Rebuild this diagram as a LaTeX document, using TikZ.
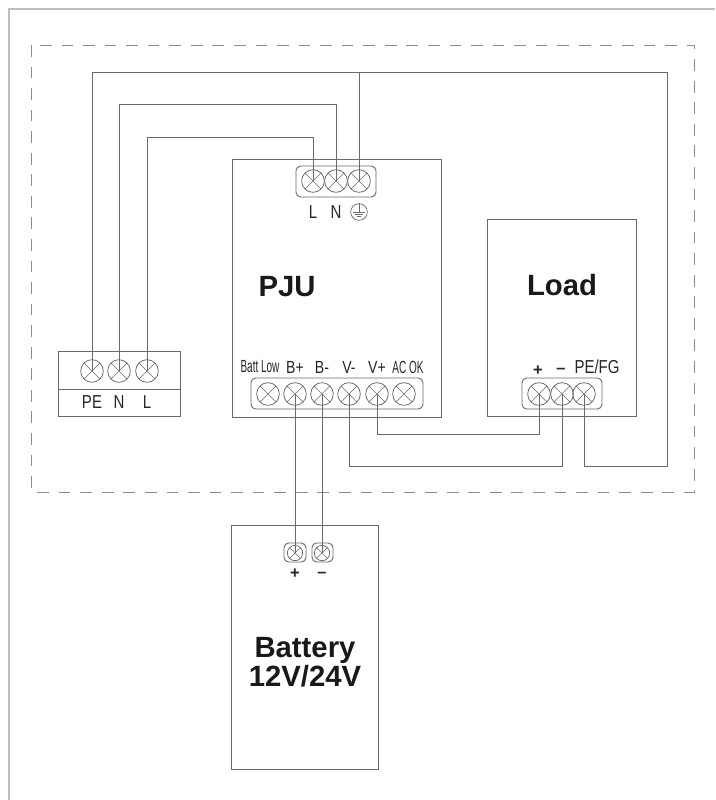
\documentclass[tikz,border=0pt]{standalone}
\usepackage{fontspec}
\setmainfont{Liberation Sans}
\newfontfamily\narrowfont[FakeStretch=0.8]{Liberation Sans}
\newfontfamily\tighterfont[FakeStretch=0.57]{Liberation Sans}
\definecolor{wire}{HTML}{6A6A6A}
\tikzset{
  screw/.style={circle,draw=wire,line width=0.65pt,inner sep=0pt,minimum size=0.68cm,
    path picture={\draw [wire,line width=0.55pt] (path picture bounding box.north west) -- (path picture bounding box.south east)
      (path picture bounding box.north east) -- (path picture bounding box.south west);}},
  smallscrew/.style={screw,minimum size=0.46cm},
  lbl/.style={font=\narrowfont\fontsize{16}{16}\selectfont,text=black!85,inner sep=0pt},
  rowlbl/.style={font=\narrowfont\fontsize{15}{15}\selectfont,text=black!85,inner sep=0pt},
  signlbl/.style={font=\bfseries\fontsize{14}{14}\selectfont,text=black!85,inner sep=0pt},
  title/.style={font=\bfseries\fontsize{25}{25}\selectfont,text=black!90,inner sep=0pt,align=center},
  strip/.style={draw=wire,line width=0.8pt,rounded corners=4pt},
  box/.style={draw=wire,line width=0.85pt},
  line/.style={wire,line width=0.85pt}
}
\begin{document}
\begin{tikzpicture}[x=0.03cm,y=-0.03cm]
\useasboundingbox (0,0) rectangle (715,800);
\draw [black!25,line width=1.2pt] (715,9) -- (9,9) -- (9,800);
\draw [black!45,line width=0.85pt,dash pattern=on 10pt off 8.4pt] (31.5,45) rectangle (694,492);
\draw [box] (232,159) rectangle (441,417);
\draw [box] (487.5,219) rectangle (636,416);
\draw [box] (231,525) rectangle (378,769);
\draw [box] (58,351) rectangle (180,416);
\draw [box] (58,389) -- (180,389);
\draw [strip] (296,166) rectangle (376,197);
\draw [strip] (251,378) rectangle (423,409);
\draw [strip] (522,378) rectangle (602,409);
\draw [strip] (284,543) rectangle (306,562);
\draw [strip] (312,543) rectangle (333,562);
% mains block
\node [screw] (linePE) at (92,371) {};
\node [screw] (lineN) at (119,371) {};
\node [screw] (lineL) at (147,371) {};
\node [lbl] (txtPE) at (92,402) {PE};
\node [lbl] (txtN) at (119,402) {N};
\node [lbl] (txtL) at (147,402) {L};
% ac input
\node [screw] (acL) at (313,181) {};
\node [screw] (acN) at (336,181) {};
\node [screw] (acE) at (359,181) {};
\node [lbl] (txtacL) at (313,212) {L};
\node [lbl] (txtacN) at (336,212) {N};
\node [circle,draw=wire,line width=0.6pt,inner sep=0pt,minimum size=0.5cm] (txtacE) at (359,212) {};
\draw [line,line width=0.6pt] (txtacE.north) -- (txtacE.center);
\draw [line,line width=0.6pt] ([xshift=-0.18cm]txtacE.center) -- ([xshift=0.18cm]txtacE.center);
\draw [line,line width=0.6pt] ([xshift=-0.11cm,yshift=-0.07cm]txtacE.center) -- ([xshift=0.11cm,yshift=-0.07cm]txtacE.center);
\draw [line,line width=0.6pt] ([xshift=-0.05cm,yshift=-0.14cm]txtacE.center) -- ([xshift=0.05cm,yshift=-0.14cm]txtacE.center);
% pju output
\node [screw] (battLow) at (268,394) {};
\node [screw] (bPlus) at (295,394) {};
\node [screw] (bMinus) at (322,394) {};
\node [screw] (vMinus) at (349,394) {};
\node [screw] (vPlus) at (377,394) {};
\node [screw] (acOk) at (404,394) {};
\node [rowlbl,font=\tighterfont\fontsize{15}{15}\selectfont] (txtLow) at (260,367) {Batt Low};
\node [rowlbl] (txtBp) at (295,367) {B+};
\node [rowlbl] (txtBm) at (322,367) {B-};
\node [rowlbl] (txtVm) at (349,367) {V-};
\node [rowlbl] (txtVp) at (377,367) {V+};
\node [rowlbl,font=\tighterfont\fontsize{15}{15}\selectfont] (txtOk) at (408,367) {AC OK};
% load
\node [screw] (loadP) at (539,394) {};
\node [screw] (loadM) at (562,394) {};
\node [screw] (loadPE) at (584,394) {};
\node [signlbl] (txtLp) at (538,371) {+};
\node [signlbl] (txtLm) at (561,371) {--};
\node [lbl] (txtLpe) at (597,367) {PE/FG};
% battery
\node [smallscrew] (batP) at (295,553) {};
\node [smallscrew] (batM) at (322,553) {};
\node [signlbl] (txtbatP) at (295,574) {+};
\node [signlbl] (txtbatM) at (322,575) {--};
\node [title] (pju) at (287,287) {PJU};
\node [title] (load) at (562,285) {Load};
\node [title] (battery) at (305,662) {Battery\\12V/24V};
% wires
\coordinate (wireN) at (336,104);
\coordinate (wireL) at (313,137);
\coordinate (loopNE) at (667,72);
\coordinate (loopSE) at (667,466);
\coordinate (wireVp) at (539,434);
\coordinate (wireVm) at (562,466);
\draw [line] (loadPE.center) |- (loopSE) -- (loopNE) -| (linePE.center);
\draw [line] (acE.center) -- (acE |- loopNE);
\draw [line] (lineN.center) |- (wireN) -- (acN.center);
\draw [line] (lineL.center) |- (wireL) -- (acL.center);
\draw [line] (vPlus.center) |- (wireVp) -- (loadP.center);
\draw [line] (vMinus.center) |- (wireVm) -- (loadM.center);
\draw [line] (bPlus.center) -- (batP.center);
\draw [line] (bMinus.center) -- (batM.center);
\end{tikzpicture}
\end{document}
